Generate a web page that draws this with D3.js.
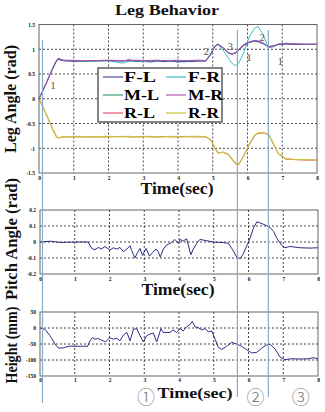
<!DOCTYPE html>
<html>
<head>
<meta charset="utf-8">
<script src="https://cdnjs.cloudflare.com/ajax/libs/d3/7.8.5/d3.min.js"></script>
<style>
  body { margin: 0; background: #fff; }
  svg { display: block; }
</style>
</head>
<body>
<div id="chart"></div>
<script>
// ---- data ----
var legLabels = ["F-L", "F-R", "M-L", "M-R", "R-L", "R-R"];
var legColors = ["#45459a", "#3cbcc6", "#3c9c74", "#b056b4", "#e4506c", "#cbc43a"];

var tTop = [0,0.2,0.4,0.5,0.55,0.7,1.0,1.5,2.0,2.4,2.6,2.8,3.0,3.2,3.4,3.6,3.8,4.0,4.2,4.4,4.6,4.8,4.95,5.05,5.15,5.3,5.45,5.55,5.65,5.75,5.9,6.05,6.2,6.3,6.45,6.6,6.75,6.9,7.1,7.4,7.7,8.0];
var legFL = [0,0.3,0.62,0.76,0.8,0.77,0.76,0.77,0.77,0.76,0.79,0.75,0.78,0.74,0.77,0.75,0.77,0.74,0.76,0.75,0.77,0.76,0.9,1.05,1.1,1.03,0.93,0.9,0.92,0.98,1.08,1.14,1.17,1.16,1.12,1.05,1.07,1.1,1.11,1.1,1.1,1.1];
var legFR = [0,0.3,0.62,0.76,0.8,0.77,0.77,0.76,0.77,0.72,0.76,0.77,0.74,0.77,0.76,0.77,0.75,0.76,0.74,0.77,0.76,0.77,0.92,1.06,1.1,0.98,0.82,0.72,0.67,0.72,0.95,1.25,1.42,1.46,1.3,1.03,1.05,1.1,1.12,1.1,1.1,1.1];
var legML = [0,0.3,0.62,0.76,0.8,0.77,0.76,0.76,0.77,0.77,0.76,0.77,0.76,0.77,0.76,0.76,0.77,0.76,0.77,0.76,0.76,0.77,0.91,1.05,1.1,1.02,0.93,0.91,0.93,0.99,1.09,1.14,1.16,1.15,1.11,1.05,1.07,1.1,1.1,1.1,1.1,1.1];
var legMR = [0,0.3,0.63,0.77,0.82,0.78,0.775,0.77,0.78,0.77,0.775,0.78,0.77,0.775,0.78,0.77,0.775,0.78,0.77,0.775,0.78,0.77,0.91,1.06,1.11,1.03,0.92,0.9,0.93,1.0,1.1,1.15,1.18,1.17,1.13,1.04,1.06,1.11,1.12,1.11,1.1,1.1];
var legRL = [0,-0.3,-0.62,-0.76,-0.79,-0.77,-0.77,-0.77,-0.77,-0.76,-0.77,-0.77,-0.76,-0.77,-0.77,-0.76,-0.77,-0.77,-0.76,-0.77,-0.77,-0.77,-0.83,-0.98,-1.09,-1.08,-1.12,-1.21,-1.3,-1.33,-1.15,-0.93,-0.75,-0.7,-0.69,-0.72,-0.92,-1.12,-1.22,-1.23,-1.24,-1.24];
var legRR = [0,-0.3,-0.63,-0.77,-0.79,-0.77,-0.76,-0.77,-0.76,-0.77,-0.76,-0.77,-0.77,-0.76,-0.77,-0.77,-0.76,-0.77,-0.77,-0.76,-0.76,-0.77,-0.84,-0.99,-1.1,-1.08,-1.13,-1.22,-1.31,-1.32,-1.14,-0.92,-0.74,-0.69,-0.69,-0.71,-0.91,-1.11,-1.21,-1.23,-1.23,-1.24];

var tPitch = [0,0.3,0.6,1.0,1.38,1.49,1.58,1.68,1.77,1.87,2.01,2.11,2.21,2.3,2.4,2.5,2.59,2.64,2.73,2.81,2.88,2.95,3.05,3.15,3.25,3.34,3.4,3.46,3.55,3.64,3.78,3.88,3.98,4.03,4.12,4.22,4.27,4.34,4.41,4.51,4.6,4.8,4.99,5.28,5.42,5.56,5.66,5.76,5.85,5.95,6.05,6.14,6.24,6.33,6.48,6.62,6.72,6.81,6.95,7.05,7.19,7.34,7.48,7.77,8.0];
var pitch = [0,0.005,-0.003,0,0,-0.04,-0.048,-0.034,-0.044,-0.028,-0.05,-0.036,-0.044,-0.034,-0.06,-0.044,-0.024,-0.054,-0.1,-0.064,-0.04,-0.084,-0.04,-0.088,-0.064,-0.044,-0.06,-0.094,-0.044,-0.02,-0.004,0.016,-0.008,0.016,0.006,0.02,-0.02,-0.08,-0.044,-0.008,0.016,0.008,0,-0.004,-0.008,-0.054,-0.094,-0.104,-0.074,-0.024,0.026,0.086,0.126,0.12,0.106,0.092,0.066,0.026,-0.02,-0.036,-0.028,-0.032,-0.036,-0.038,-0.036];

var tHeight = [0,0.14,0.29,0.43,0.53,0.67,0.82,1.1,1.37,1.44,1.51,1.58,1.68,1.77,1.89,2.01,2.11,2.21,2.3,2.4,2.5,2.59,2.69,2.78,2.88,2.97,3.07,3.16,3.26,3.36,3.48,3.55,3.65,3.74,3.83,3.93,4.03,4.12,4.22,4.32,4.38,4.46,4.56,4.65,4.75,4.85,4.94,5.04,5.13,5.23,5.37,5.52,5.66,5.8,5.95,6.09,6.24,6.38,6.52,6.62,6.76,6.91,7.05,7.24,7.48,7.72,7.86,8.0];
var height = [0,-4,-24,-50,-63,-62,-57,-57,-57,-40,-30,-35,-33,-38,-43,-30,-35,-32,-40,-22,-14,-40,-4,-2,-24,-43,-24,-19,-16,-43,-2,-14,-14,-14,-6,-14,-2,-9,4,11,21,4,1,-6,-2,-12,-9,-35,-60,-67,-57,-45,-50,-57,-68,-78,-76,-63,-53,-51,-65,-91,-99,-96,-97,-96,-93,-96];

var xTicks = [0,1,2,3,4,5,6,7,8];
var legTicks = [-1.5,-1,-0.5,0,0.5,1,1.5];
var pitchTicks = [-0.2,-0.1,0,0.1,0.2];
var heightTicks = [-150,-100,-50,0,50];

var phaseTimes = [0.1, 5.71, 6.6];          // blue vertical markers
var phaseLabels = ["\u2460", "\u2461", "\u2462"];
var phaseLabelT = [3.05, 6.2, 7.5];
var annoText = ["1", "2", "3", "2", "1", "1"];
var annoT = [0.40, 4.81, 5.5, 6.42, 6.04, 6.94];
var annoV = [0.2, 0.88, 0.98, 1.17, 0.76, 0.68];

// ---- drawing ----
var W = 325, H = 412;
var serif = "'Liberation Serif', 'DejaVu Serif', serif";

var svg = d3.select("#chart").append("svg")
    .attr("width", W).attr("height", H)
    .style("background", "#fff");

function make_panel(xr, yr, ydom, yticks, tickPad) {
    var x = d3.scaleLinear().domain([0, 8]).range(xr);
    var y = d3.scaleLinear().domain(ydom).range(yr);
    var g = svg.append("g");
    // grid
    g.append("g").selectAll("line").data(xTicks.slice(1, -1)).enter().append("line")
        .attr("x1", d => x(d)).attr("x2", d => x(d))
        .attr("y1", yr[1]).attr("y2", yr[0])
        .attr("stroke", "#333").attr("stroke-width", 0.9).attr("stroke-dasharray", "2,2");
    g.append("g").selectAll("line").data(yticks.slice(1, -1)).enter().append("line")
        .attr("x1", xr[0]).attr("x2", xr[1])
        .attr("y1", d => y(d)).attr("y2", d => y(d))
        .attr("stroke", "#333").attr("stroke-width", 0.9).attr("stroke-dasharray", "2,2");
    // axes (labels only)
    var ax = g.append("g").attr("transform", "translate(0," + yr[0] + ")")
        .call(d3.axisBottom(x).tickValues(xTicks).tickSize(0).tickPadding(tickPad).tickFormat(d3.format("d")));
    var ay = g.append("g").attr("transform", "translate(" + xr[0] + ",0)")
        .call(d3.axisLeft(y).tickValues(yticks).tickSize(0).tickPadding(4).tickFormat(d => String(d)));
    [ax, ay].forEach(function (a) {
        a.select(".domain").remove();
        a.selectAll("text").attr("font-family", serif).attr("font-weight", "bold")
            .attr("font-size", 5.5).attr("fill", "#111");
    });
    return { g: g, x: x, y: y, xr: xr, yr: yr };
}

function frame(p) {
    p.g.append("rect")
        .attr("x", p.xr[0]).attr("y", p.yr[1])
        .attr("width", p.xr[1] - p.xr[0]).attr("height", p.yr[0] - p.yr[1])
        .attr("fill", "none").attr("stroke", "#666").attr("stroke-width", 1);
}

function draw_series(p, ts, vs, color, w) {
    var line = d3.line().x(d => p.x(d[0])).y(d => p.y(d[1]));
    p.g.append("path").datum(d3.zip(ts, vs))
        .attr("d", line).attr("fill", "none")
        .attr("stroke", color).attr("stroke-width", w || 1).attr("stroke-linejoin", "round");
}

var pTop = make_panel([39, 317], [173, 24.5], [-1.5, 1.5], legTicks, 3);
var pMid = make_panel([40, 318], [274, 210], [-0.2, 0.2], pitchTicks, 3);
var pBot = make_panel([40, 318], [376, 312], [-150, 50], heightTicks, 2.5);

// blue phase markers, across the whole figure
svg.append("g").selectAll("line").data(phaseTimes).enter().append("line")
    .attr("x1", d => pTop.x(d)).attr("x2", d => pTop.x(d))
    .attr("y1", (d, i) => i == 0 ? 40 : 30)
    .attr("y2", (d, i) => i == 0 ? 403 : 397)
    .attr("stroke", "#86abc9").attr("stroke-width", 1.2);

// cyan under, blue then magenta on top; yellow over red
var legSeries = [legFL, legFR, legML, legMR, legRL, legRR];
var order = [4, 5, 1, 2, 0, 3];
order.forEach(function (i) { draw_series(pTop, tTop, legSeries[i], legColors[i], i == 5 ? 1.2 : 1); });
draw_series(pMid, tPitch, pitch, "#2c2c86");
draw_series(pBot, tHeight, height, "#2c2c86");
[pTop, pMid, pBot].forEach(frame);

// numbers on the top panel
pTop.g.append("g").selectAll("text").data(annoText).enter().append("text")
    .attr("x", (d, i) => pTop.x(annoT[i])).attr("y", (d, i) => pTop.y(annoV[i]))
    .attr("text-anchor", "middle").attr("font-family", serif)
    .attr("font-size", 11).attr("fill", "#555").text(d => d);

// legend
var lg = svg.append("g");
lg.append("rect").attr("x", 98).attr("y", 68).attr("width", 124).attr("height", 54)
    .attr("fill", "#fff").attr("stroke", "#666").attr("stroke-width", 1.6);
var legTextLen = [32, 32, 35, 35, 31, 31];
legLabels.forEach(function (name, i) {
    var col = i % 2, row = Math.floor(i / 2);
    var cy = 77 + row * 18;
    var lx = col == 0 ? 103 : 166;
    lg.append("line").attr("x1", lx).attr("x2", lx + 20).attr("y1", cy).attr("y2", cy)
        .attr("stroke", legColors[i]).attr("stroke-width", 1.2);
    lg.append("text").attr("x", col == 0 ? 124 : 188).attr("y", cy + 5)
        .attr("font-family", serif).attr("font-weight", "bold").attr("font-size", 14)
        .attr("textLength", legTextLen[i]).attr("lengthAdjust", "spacingAndGlyphs")
        .text(name);
});

// titles
function label(x, y, txt, size, len, rot) {
    var t = svg.append("text")
        .attr("text-anchor", "middle").attr("font-family", serif).attr("font-weight", "bold")
        .attr("font-size", size).attr("fill", "#111")
        .attr("textLength", len).attr("lengthAdjust", "spacingAndGlyphs").text(txt);
    if (rot) t.attr("transform", "translate(" + x + "," + y + ") rotate(-90)");
    else t.attr("x", x).attr("y", y);
    return t;
}
label(167, 15, "Leg Behavior", 14, 104);
label(177, 194, "Time(sec)", 16, 73);
label(178, 295, "Time(sec)", 16, 73);
label(195, 398, "Time(sec)", 15, 75);
label(16, 99, "Leg Angle (rad)", 16, 108, true);
label(17, 239, "Pitch Angle (rad)", 16, 122, true);
label(17, 345, "Height (mm)", 16, 77, true);

// phase numbers under the last panel
svg.append("g").selectAll("text").data(phaseLabels).enter().append("text")
    .attr("x", (d, i) => pBot.x(phaseLabelT[i])).attr("y", 404)
    .attr("text-anchor", "middle").attr("font-family", "'Noto Sans CJK JP', 'DejaVu Sans', sans-serif")
    .attr("font-size", 18).attr("font-weight", 300).attr("fill", "#777")
    .text(d => d);
</script>
</body>
</html>
